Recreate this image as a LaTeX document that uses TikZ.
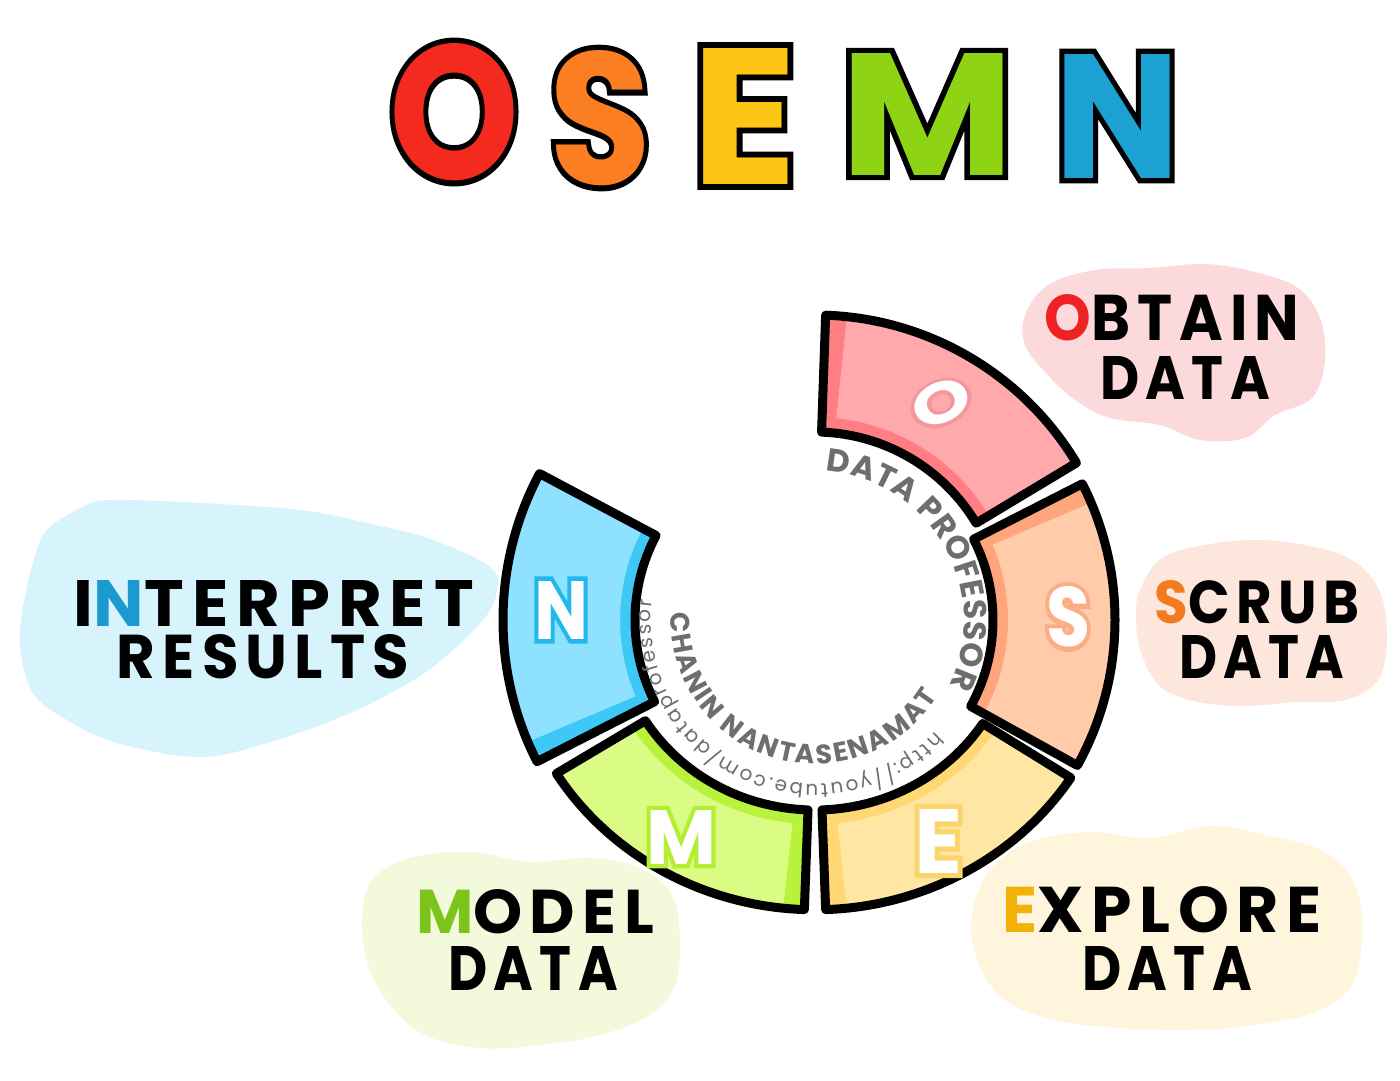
\documentclass[tikz,border=0pt]{standalone}
\usepackage{fontspec}
\setmainfont{Poppins}
\usetikzlibrary{decorations.text}
\definecolor{tRed}{HTML}{F52A1E}
\definecolor{tOrange}{HTML}{FB7F22}
\definecolor{tYellow}{HTML}{FDC514}
\definecolor{tGreen}{HTML}{8ED414}
\definecolor{tBlue}{HTML}{1BA2D2}
\definecolor{oDark}{HTML}{FF7E84}
\definecolor{oLight}{HTML}{FFA9AD}
\definecolor{oEdge}{HTML}{F4979C}
\definecolor{sDark}{HTML}{FFA57B}
\definecolor{sLight}{HTML}{FFCBA8}
\definecolor{sEdge}{HTML}{FBAE84}
\definecolor{eDark}{HTML}{FFD873}
\definecolor{eLight}{HTML}{FFE7A3}
\definecolor{eEdge}{HTML}{FAD56C}
\definecolor{mDark}{HTML}{B9F23C}
\definecolor{mLight}{HTML}{DAFB84}
\definecolor{mEdge}{HTML}{B4EE34}
\definecolor{nDark}{HTML}{3EC8F6}
\definecolor{nLight}{HTML}{8FE2FF}
\definecolor{nEdge}{HTML}{22B8EC}
\definecolor{bO}{HTML}{FCDADB}
\definecolor{bS}{HTML}{FDE6DC}
\definecolor{bE}{HTML}{FEF5DC}
\definecolor{bM}{HTML}{F2FADB}
\definecolor{bN}{HTML}{D7F3FC}
\definecolor{inkgray}{HTML}{6E6E6E}
\definecolor{lblRed}{HTML}{EE2222}
\definecolor{lblOrange}{HTML}{F47A1F}
\definecolor{lblYellow}{HTML}{F2B20A}
\definecolor{lblGreen}{HTML}{7CC41C}
\definecolor{lblBlue}{HTML}{1C9AD0}
\newcommand\fbf[2]{\bfseries\fontsize{#1}{#1}\selectfont\addfontfeature{FakeBold=#2}}
\newcommand\lblf{\bfseries\fontsize{60}{60}\selectfont\addfontfeature{LetterSpace=12}}
\newcommand\ringfontA{\bfseries\fontsize{32}{32}\selectfont\color{inkgray}}
\newcommand\ringfontC{\bfseries\fontsize{27}{27}\selectfont\color{inkgray}}
\newcommand\ringfontB{\fontsize{20}{20}\selectfont\color{inkgray}}
\newcommand\ringseg[8]{%
  \fill[#5] (#1:#4) arc[start angle=#1,end angle=#2,radius=#4] -- (#2:#3) arc[start angle=#2,end angle=#1,radius=#3] -- cycle;
  \fill[#6] (#7:#4) arc[start angle=#7,end angle=#8,radius=#4] -- (#8:#3+15) arc[start angle=#8,end angle=#7,radius=#3+15] -- cycle;
  \draw[segline] (#1:#4) arc[start angle=#1,end angle=#2,radius=#4] -- (#2:#3) arc[start angle=#2,end angle=#1,radius=#3] -- cycle;
}
\begin{document}
\begin{tikzpicture}[x=1pt,y=-1pt,
  segline/.style={draw=black,line width=9pt,line join=round},
  txt/.style={inner sep=0pt,outer sep=0pt}]
\useasboundingbox (0,0) rectangle (1400,1080);
\fill[white] (0,0) rectangle (1400,1080);
% ---------- blobs
\fill[bO] plot[smooth cycle,tension=0.6] coordinates {(1025,315) (1048,285) (1095,270) (1150,268) (1205,264) (1255,272) (1298,288) (1320,318) (1325,360) (1312,398) (1275,415) (1245,438) (1200,440) (1160,425) (1110,418) (1075,400) (1045,372) (1025,345)};
\fill[bS] plot[smooth cycle,tension=0.6] coordinates {(1140,590) (1162,558) (1205,545) (1255,540) (1305,545) (1352,560) (1380,592) (1387,640) (1378,680) (1345,700) (1295,702) (1245,706) (1198,702) (1162,688) (1143,658) (1136,622)};
\fill[bN] plot[smooth cycle,tension=0.6] coordinates {(47,530) (83,507) (110,500) (200,503) (300,510) (367,523) (433,540) (490,567) (497,590) (483,620) (433,667) (383,697) (333,720) (267,743) (200,757) (117,743) (67,720) (33,693) (20,647) (23,607) (33,563)};
\fill[bM] plot[smooth cycle,tension=0.6] coordinates {(372,880) (410,858) (470,852) (530,862) (590,858) (640,868) (672,895) (680,940) (675,985) (650,1015) (600,1035) (540,1045) (480,1048) (425,1035) (390,1005) (368,965) (362,920)};
\fill[bE] plot[smooth cycle,tension=0.6] coordinates {(990,870) (1030,842) (1090,832) (1150,838) (1210,826) (1270,836) (1325,852) (1355,885) (1362,935) (1352,985) (1315,1012) (1255,1025) (1190,1030) (1120,1028) (1055,1020) (1005,1000) (978,962) (972,915)};
% ---------- ring
\begin{scope}[shift={(815,620)},y=1pt]
 \ringseg{31}{88}{188}{305}{oDark}{oLight}{31}{84}
 \ringseg{-29}{27}{178}{300}{sDark}{sLight}{-29}{23}
 \begin{scope}[yscale=0.95]
  \ringseg{-88}{-33}{200}{305}{eDark}{eLight}{-84}{-33}
  \ringseg{-148}{-92}{200}{305}{mDark}{mLight}{-148}{-96}
 \end{scope}
 \ringseg{152}{207}{180}{312}{nDark}{nLight}{152}{203}
 \path[decorate,decoration={text along path,text align=fit to path,text={|\ringfontA|DATA PROFESSOR}}] (86:149) arc[start angle=86,end angle=-26,radius=149];
 \path[decorate,decoration={text along path,text align=fit to path,text={|\ringfontC|CHANIN NANTASENAMAT}}] (177:144) arc[start angle=177,end angle=328,radius=144];
 \path[decorate,decoration={text along path,text align=fit to path,text={|\ringfontB|http://youtube.com/dataprofessor}}] (-43:164) arc[start angle=-43,end angle=-187,radius=164];
\end{scope}
% ---------- letters on segments
\node[txt,text=oEdge,rotate=25] (sOk) at (941,403) {\resizebox{60pt}{40pt}{\fbf{100}{11}O}};
\node[txt,text=white,rotate=25] (sO) at (941,403) {\resizebox{60pt}{40pt}{\fbf{100}{0}O}};
\node[txt,text=sEdge] (sSk) at (1068,617) {\resizebox{44pt}{60pt}{\fbf{100}{11}S}};
\node[txt,text=white] (sS) at (1068,617) {\resizebox{44pt}{60pt}{\fbf{100}{0}S}};
\node[txt,text=eEdge] (sEk) at (938,841) {\resizebox{48pt}{64pt}{\fbf{100}{11}E}};
\node[txt,text=white] (sE) at (938,841) {\resizebox{48pt}{64pt}{\fbf{100}{0}E}};
\node[txt,text=mEdge] (sMk) at (681,837) {\resizebox{70pt}{54pt}{\fbf{100}{11}M}};
\node[txt,text=white] (sM) at (681,837) {\resizebox{70pt}{54pt}{\fbf{100}{0}M}};
\node[txt,text=nEdge] (sNk) at (561,610) {\resizebox{54pt}{58pt}{\fbf{100}{11}N}};
\node[txt,text=white] (sN) at (561,610) {\resizebox{54pt}{58pt}{\fbf{100}{0}N}};
% ---------- title
\node[txt,text=black] (tOk) at (454,112) {\resizebox{130pt}{136pt}{\fbf{100}{6}O}};
\node[txt,text=tRed] (tO) at (454,112) {\resizebox{130pt}{136pt}{\fbf{100}{0}O}};
\node[txt,text=black] (tSk) at (600,118) {\resizebox{102pt}{134pt}{\fbf{100}{6}S}};
\node[txt,text=tOrange] (tS) at (600,118) {\resizebox{102pt}{134pt}{\fbf{100}{0}S}};
\node[txt,text=black] (tEk) at (744,116) {\resizebox{106pt}{136pt}{\fbf{100}{6}E}};
\node[txt,text=tYellow] (tE) at (744,116) {\resizebox{106pt}{136pt}{\fbf{100}{0}E}};
\node[txt,text=black] (tMk) at (927,114) {\resizebox{174pt}{122pt}{\fbf{100}{6}M}};
\node[txt,text=tGreen] (tM) at (927,114) {\resizebox{174pt}{122pt}{\fbf{100}{0}M}};
\node[txt,text=black] (tNk) at (1117,116) {\resizebox{126pt}{124pt}{\fbf{100}{6}N}};
\node[txt,text=tBlue] (tN) at (1117,116) {\resizebox{126pt}{124pt}{\fbf{100}{0}N}};
% ---------- labels
\node[txt] (obtain) at (1172,318) {\resizebox{255pt}{46pt}{\lblf\textcolor{lblRed}{O}BTAIN}};
\node[txt] (obtaind) at (1185,378) {\resizebox{170pt}{43pt}{\lblf DATA}};
\node[txt] (scrub) at (1257,602) {\resizebox{205pt}{43pt}{\lblf\textcolor{lblOrange}{S}CRUB}};
\node[txt] (scrubd) at (1262,657) {\resizebox{165pt}{43pt}{\lblf DATA}};
\node[txt] (interp) at (274,603) {\resizebox{400pt}{46pt}{\lblf I\textcolor{lblBlue}{N}TERPRET}};
\node[txt] (results) at (263,657) {\resizebox{292pt}{44pt}{\lblf RESULTS}};
\node[txt] (model) at (535,912) {\resizebox{238pt}{44pt}{\lblf\textcolor{lblGreen}{M}ODEL}};
\node[txt] (modeld) at (533,968) {\resizebox{170pt}{44pt}{\lblf DATA}};
\node[txt] (explore) at (1162,910) {\resizebox{320pt}{46pt}{\lblf\textcolor{lblYellow}{E}XPLORE}};
\node[txt] (explored) at (1167,968) {\resizebox{170pt}{44pt}{\lblf DATA}};
\end{tikzpicture}
\end{document}
